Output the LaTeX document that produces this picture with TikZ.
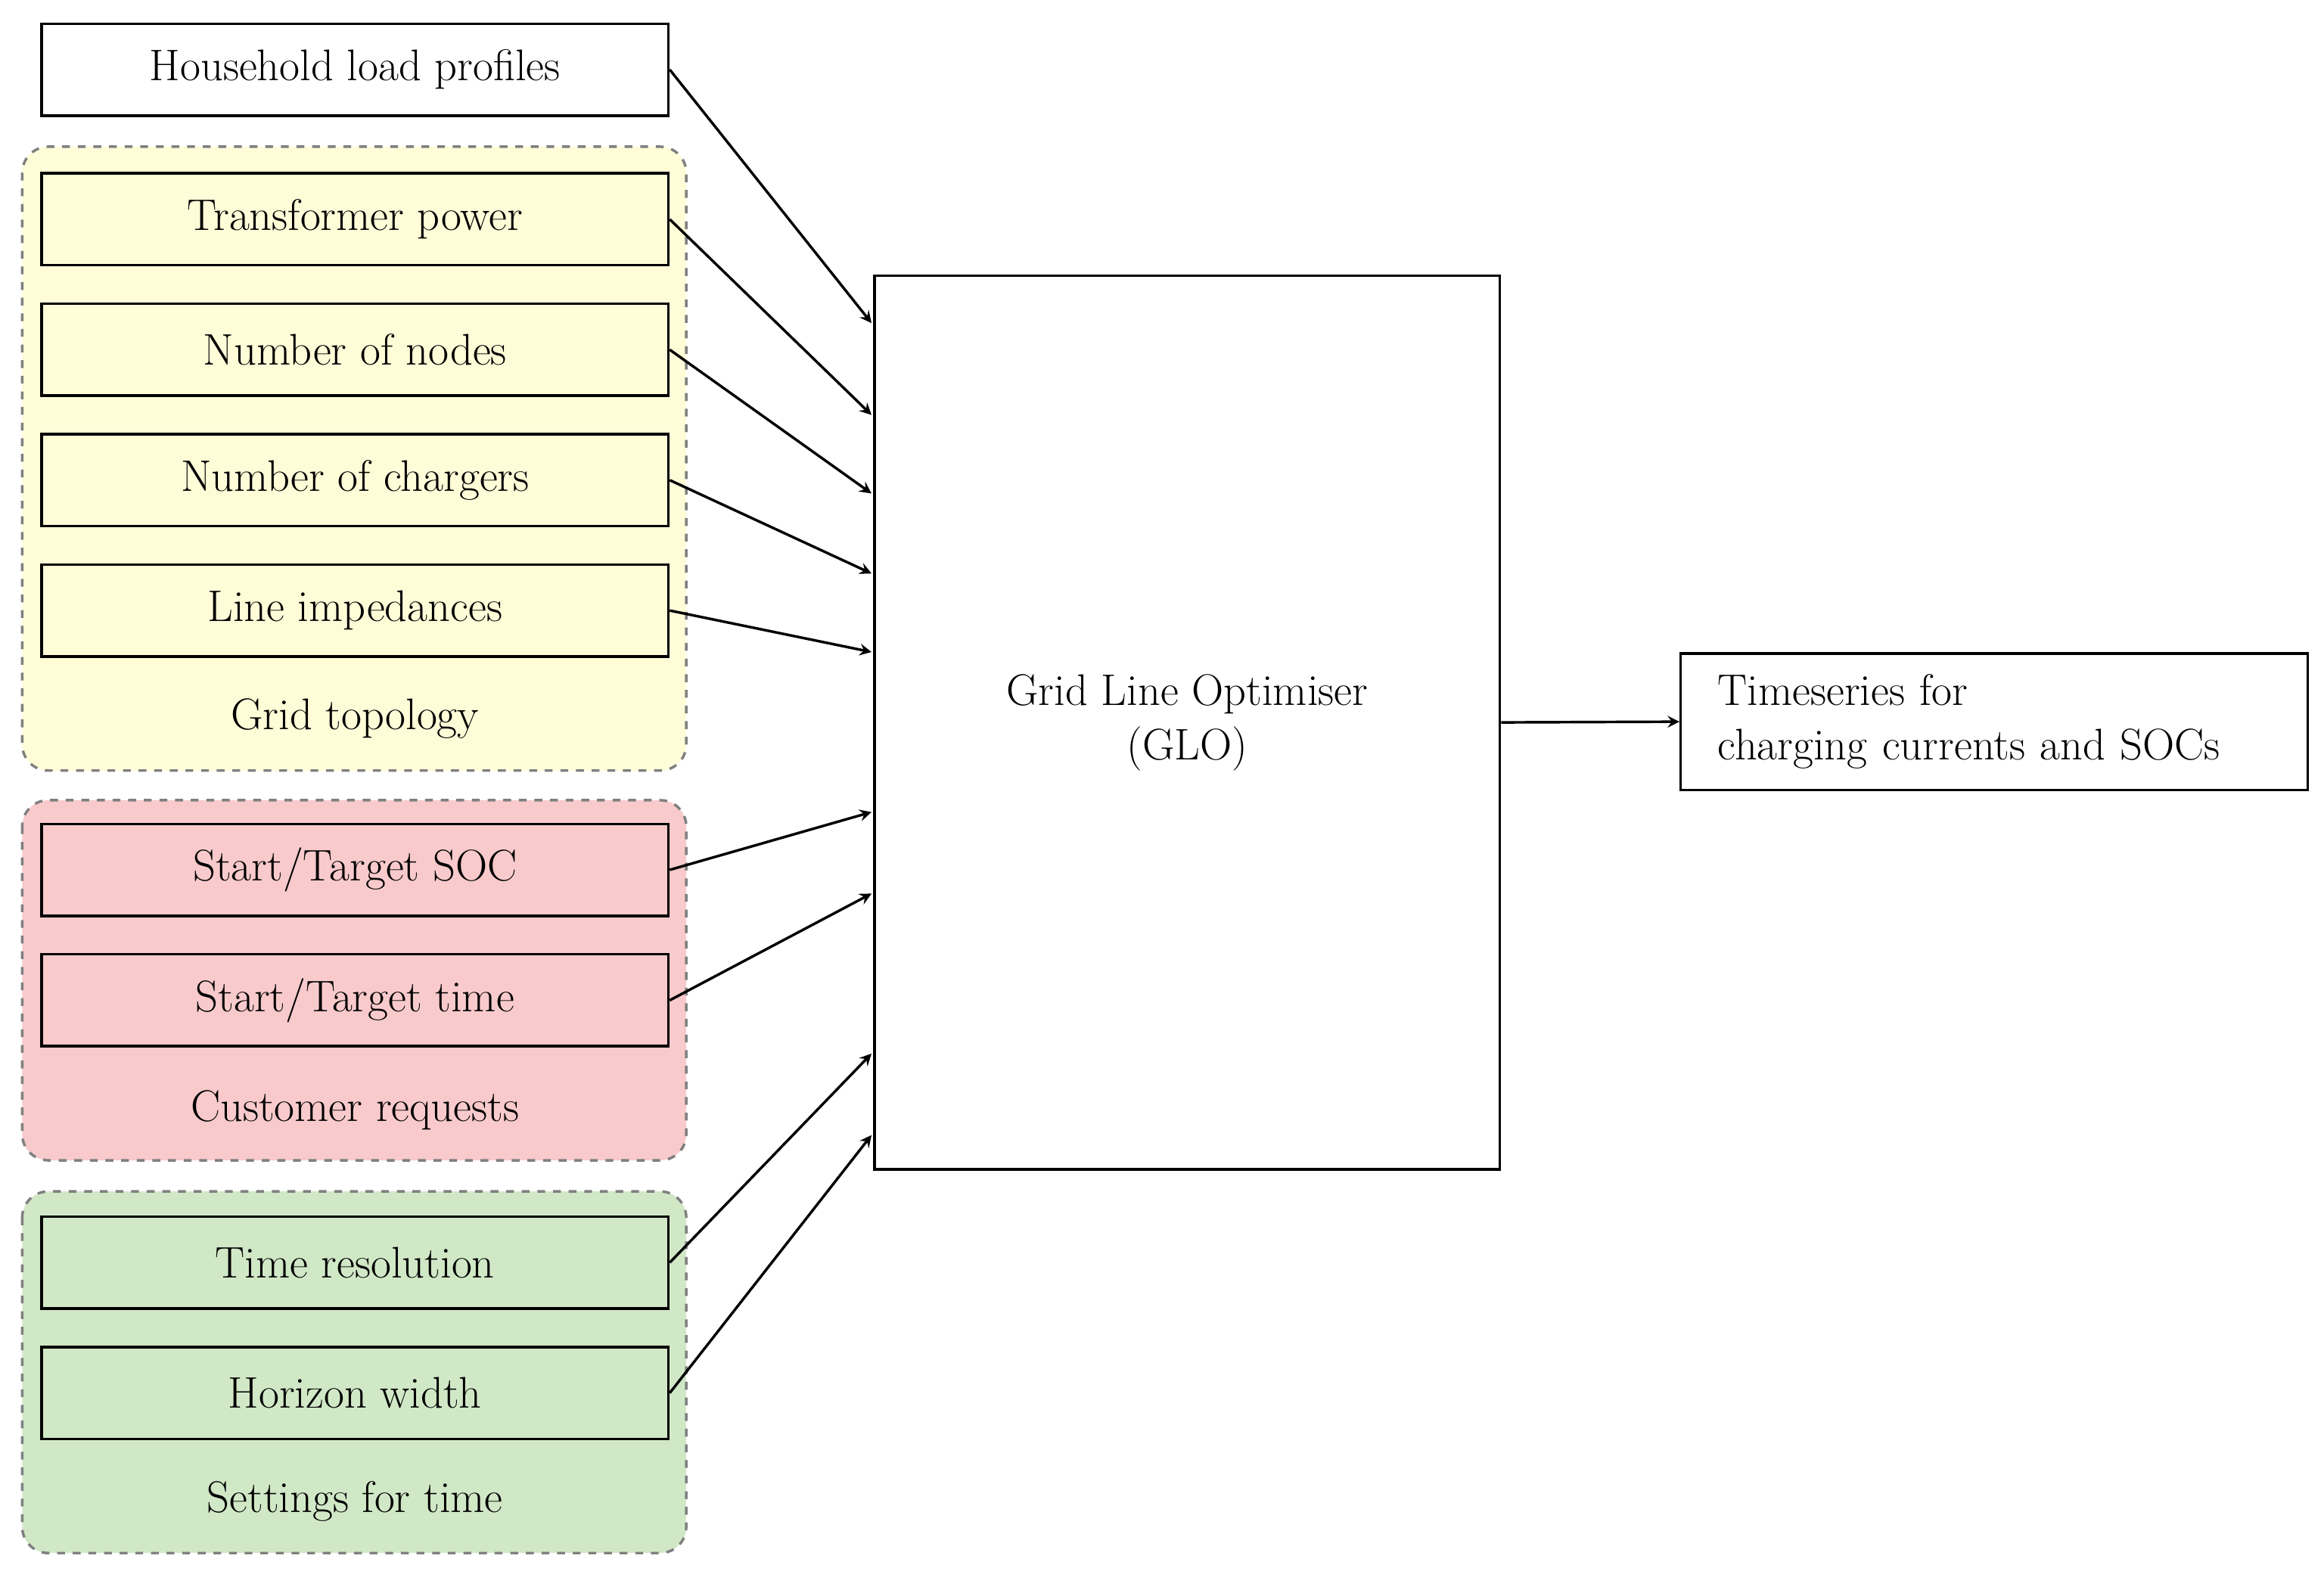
\documentclass[tikz,border=0pt]{standalone}
\usepackage{tikz}
\definecolor{cy}{HTML}{FFFCD8}
\definecolor{cp}{HTML}{F8CACB}
\definecolor{cg}{HTML}{D1E8C7}
\begin{document}
\begin{tikzpicture}[x=0.02cm,y=-0.02cm,
  every node/.style={font=\fontsize{17}{21}\selectfont},
  inbox/.style={draw,line width=1pt,minimum width=423*0.02cm,minimum height=62*0.02cm,inner sep=0pt},
  grp/.style={draw=gray,dashed,line width=1pt,rounded corners=10pt},
  lbl/.style={inner sep=0pt},
  arr/.style={->,>=stealth,line width=1pt}]
\useasboundingbox (0,0) rectangle (1568,1060);
\draw[grp,fill=cy] (15,99) rectangle (463,520);
\draw[grp,fill=cp] (15,540) rectangle (463,783);
\draw[grp,fill=cg] (15,804) rectangle (463,1048);
\node[inbox,fill=white] (hh) at (239.5,47) {Household load profiles};
\node[inbox,fill=cy] (tp) at (239.5,148) {Transformer power};
\node[inbox,fill=cy] (nn) at (239.5,236) {Number of nodes};
\node[inbox,fill=cy] (nc) at (239.5,324) {Number of chargers};
\node[inbox,fill=cy] (li) at (239.5,412) {Line impedances};
\node[lbl] (gt) at (239.5,485) {Grid topology};
\node[inbox,fill=cp] (ss) at (239.5,587) {Start/Target SOC};
\node[inbox,fill=cp] (st) at (239.5,675) {Start/Target time};
\node[lbl] (cr) at (239.5,749) {Customer requests};
\node[inbox,fill=cg] (tr) at (239.5,852) {Time resolution};
\node[inbox,fill=cg] (hw) at (239.5,940) {Horizon width};
\node[lbl] (sft) at (239.5,1013) {Settings for time};
\node[draw,line width=1pt,minimum width=422*0.02cm,minimum height=603*0.02cm,align=center] (glo) at (801,487.5) {Grid Line Optimiser\\(GLO)};
\node[draw,line width=1pt,minimum width=423*0.02cm,minimum height=92*0.02cm,align=left,text width=373*0.02cm] (out) at (1345.5,487) {Timeseries for\\charging currents and SOCs};
\foreach \n/\y in {hh/218,tp/280,nn/333,nc/387,li/440,ss/548,st/603,tr/711,hw/766}{
  \coordinate (e\n) at (588,\y);
  \draw[arr] (\n.east) -- (e\n);
}
\draw[arr] (glo.east) -- (out.west);
\end{tikzpicture}
\end{document}
